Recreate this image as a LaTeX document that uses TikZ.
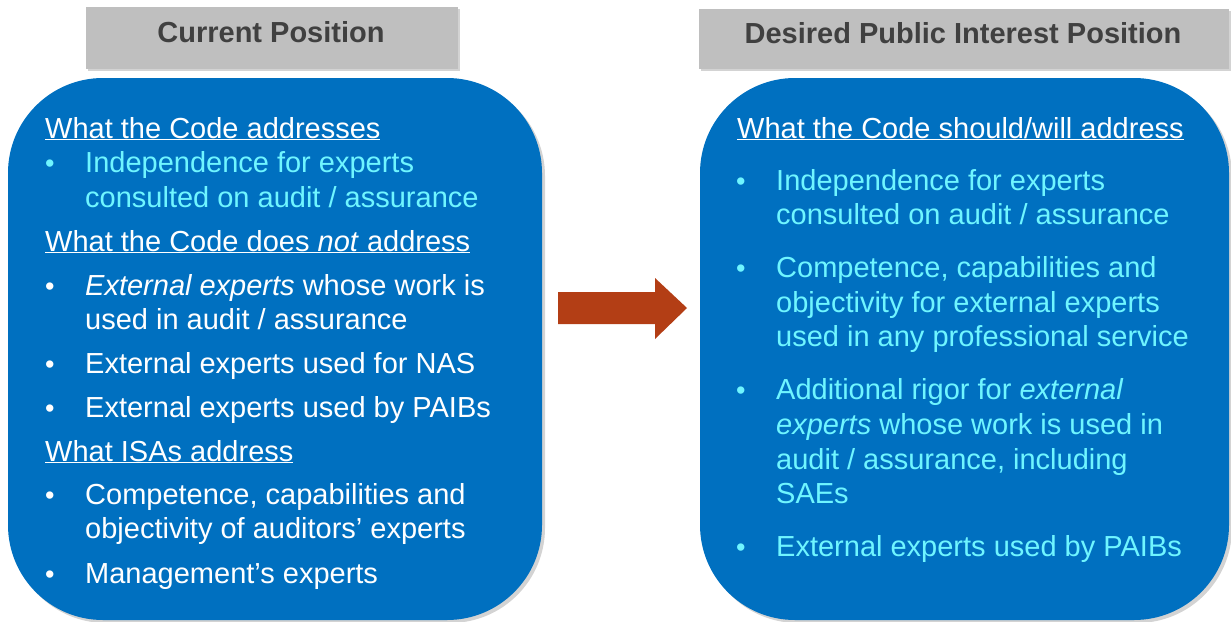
\documentclass[tikz,border=0pt]{standalone}
\usepackage{fontspec}
\setmainfont{Liberation Sans}
\usetikzlibrary{shadows}
\definecolor{boxblue}{HTML}{0070C0}
\definecolor{cyantext}{HTML}{6FF5FF}
\definecolor{headgray}{HTML}{BFBFBF}
\definecolor{headtext}{HTML}{404040}
\definecolor{arrowred}{HTML}{B33E15}
\tikzset{
  headbox/.style={fill=headgray, draw=none, drop shadow={shadow xshift=2pt, shadow yshift=-2pt, opacity=0.35}},
  bluebox/.style={fill=boxblue, draw=none, rounded corners=95pt, drop shadow={shadow xshift=3pt, shadow yshift=-3pt, opacity=0.35}},
  headtxt/.style={inner sep=0, font=\fontsize{29}{33}\selectfont\bfseries, text=headtext},
  txt/.style={anchor=base west, inner sep=0, font=\fontsize{29}{34}\selectfont, text=white},
  cy/.style={txt, text=cyantext},
  bul/.style={anchor=base west, inner sep=0, font=\fontsize{27}{32}\selectfont, text=white},
  cybul/.style={bul, text=cyantext}
}
\begin{document}
\begin{tikzpicture}[x=1pt,y=-1pt]
\useasboundingbox (0,0) rectangle (1231,621);
% headers
\node[headbox, minimum width=372pt, minimum height=62pt, anchor=north west] (h1) at (86,7) {};
\node[headtxt] (h1t) at (271,32) {Current Position};
\node[headbox, minimum width=530pt, minimum height=60pt, anchor=north west] (h2) at (699,9) {};
\node[headtxt] (h2t) at (963,33) {Desired Public Interest Position};
% boxes
\path[bluebox] (8,78) rectangle (542,620);
\node[inner sep=0, minimum width=534pt, minimum height=542pt, anchor=north west] (lbox) at (8,78) {};
\path[bluebox] (700,78) rectangle (1229,620);
\node[inner sep=0, minimum width=529pt, minimum height=542pt, anchor=north west] (rbox) at (700,78) {};
% arrow
\fill[arrowred] (558,292) -- (655,292) -- (655,278) -- (687,308) -- (655,339) -- (655,324) -- (558,324) -- cycle;
\coordinate (arrowtail) at (558,308);
\coordinate (arrowtip) at (687,308);
% left text
\node[txt] (l1) at (45,138) {\underline{What the Code addresses}};
\node[cybul] (lb1) at (45,172) {\textbullet};
\node[cy] (l2) at (85,172) {Independence for experts};
\node[cy] (l3) at (85,207) {consulted on audit / assurance};
\node[txt] (l4) at (45,251) {\underline{What the Code does \textit{not} address}};
\node[bul] (lb2) at (45,295) {\textbullet};
\node[txt] (l5) at (85,295) {\textit{External experts} whose work is};
\node[txt] (l6) at (85,329) {used in audit / assurance};
\node[bul] (lb3) at (45,373) {\textbullet};
\node[txt] (l7) at (85,373) {External experts used for NAS};
\node[bul] (lb4) at (45,417) {\textbullet};
\node[txt] (l8) at (85,417) {External experts used by PAIBs};
\node[txt] (l9) at (45,461) {\underline{What ISAs address}};
\node[bul] (lb5) at (45,504) {\textbullet};
\node[txt] (l10) at (85,504) {Competence, capabilities and};
\node[txt] (l11) at (85,538) {objectivity of auditors’ experts};
\node[bul] (lb6) at (45,583) {\textbullet};
\node[txt] (l12) at (85,583) {Management’s experts};
% right text
\node[txt] (r1) at (737,138) {\underline{What the Code should/will address}};
\node[cybul] (rb1) at (736,190) {\textbullet};
\node[cy] (r2) at (776,190) {Independence for experts};
\node[cy] (r3) at (776,224) {consulted on audit / assurance};
\node[cybul] (rb2) at (736,277) {\textbullet};
\node[cy] (r4) at (776,277) {Competence, capabilities and};
\node[cy] (r5) at (776,312) {objectivity for external experts};
\node[cy] (r6) at (776,346) {used in any professional service};
\node[cybul] (rb3) at (736,399) {\textbullet};
\node[cy] (r7) at (776,399) {Additional rigor for \textit{external}};
\node[cy] (r8) at (776,434) {\textit{experts} whose work is used in};
\node[cy] (r9) at (776,469) {audit / assurance, including};
\node[cy] (r10) at (776,503) {SAEs};
\node[cybul] (rb4) at (736,556) {\textbullet};
\node[cy] (r11) at (776,556) {External experts used by PAIBs};
\end{tikzpicture}
\end{document}
